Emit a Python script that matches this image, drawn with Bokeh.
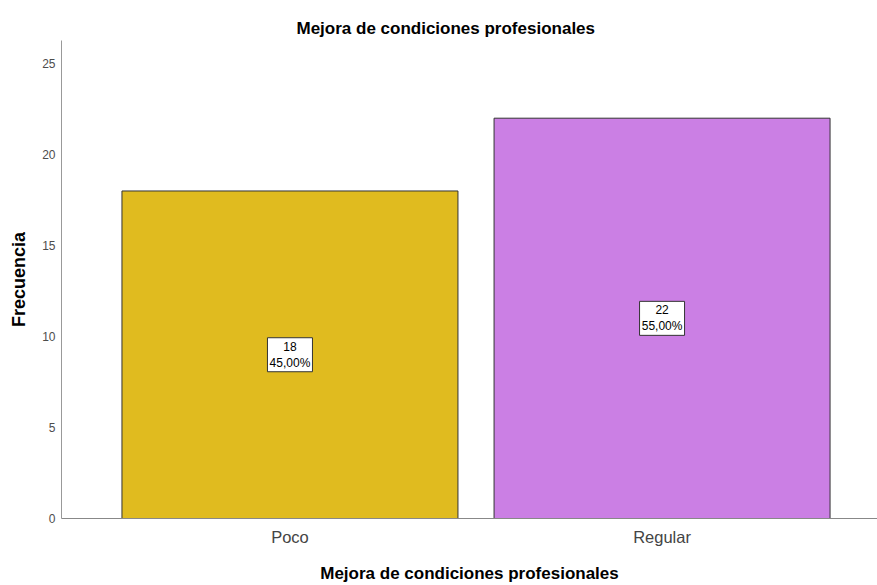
from bokeh.plotting import figure
from bokeh.models import ColumnDataSource, FixedTicker, Range1d
from bokeh.core.properties import value
from bokeh.embed import file_html
from bokeh.resources import INLINE

categories = ["Poco", "Regular"]
counts = [18, 22]
percents = ["45,00%", "55,00%"]
colors = ["#E0BB1F", "#CB7FE4"]
y_ticks = [0, 5, 10, 15, 20, 25]

xs = list(range(len(categories)))
src = ColumnDataSource(dict(
    x=xs,
    top=counts,
    mid=[c / 2 for c in counts],
    lab=[f"{c}\n{pc}" for c, pc in zip(counts, percents)],
    color=colors,
))

p = figure(width=877, height=585, output_backend="svg", toolbar_location=None,
           x_range=Range1d(-0.614, 1.579), y_range=Range1d(0, 26.27),
           min_border_left=61, min_border_right=0, min_border_top=40, min_border_bottom=67)
p.outline_line_color = None
p.xgrid.visible = False
p.ygrid.visible = False

p.title.text = "Mejora de condiciones profesionales"
p.title.align = "left"
p.title.offset = 235
p.title.standoff = 5
p.title.text_font = "Liberation Sans"
p.title.text_font_size = "17px"
p.title.text_font_style = "bold"
p.title.text_color = "#000000"

p.vbar(x="x", top="top", bottom=0, width=0.903, fill_color="color",
       line_color="#333333", line_width=1, source=src)

p.rect(x="x", y="mid", width=45, height=34, width_units="screen", height_units="screen",
       fill_color="white", line_color="#333333", line_width=1, source=src)
p.text(x="x", y="mid", text="lab", text_align="center", text_baseline="middle",
       text_font=value("Liberation Sans"), text_font_size="12px", text_color="#000000",
       text_line_height=1.15, source=src)

# axes
p.xaxis.ticker = FixedTicker(ticks=xs)
p.xaxis.major_label_overrides = {i: c for i, c in enumerate(categories)}
p.xaxis.major_tick_line_color = None
p.xaxis.major_tick_out = 0
p.xaxis.major_tick_in = 0
p.xaxis.minor_tick_line_color = None
p.xaxis.axis_line_color = "#888888"
p.xaxis.major_label_text_font = "Liberation Sans"
p.xaxis.major_label_text_font_size = "16.5px"
p.xaxis.major_label_text_color = "#444444"
p.xaxis.major_label_standoff = 9
p.xaxis.axis_label = "Mejora de condiciones profesionales"
p.xaxis.axis_label_text_font = "Liberation Sans"
p.xaxis.axis_label_text_font_size = "17px"
p.xaxis.axis_label_text_font_style = "bold"
p.xaxis.axis_label_text_color = "#000000"
p.xaxis.axis_label_standoff = 15

p.yaxis.ticker = FixedTicker(ticks=y_ticks)
p.yaxis.major_tick_line_color = None
p.yaxis.major_tick_out = 0
p.yaxis.major_tick_in = 0
p.yaxis.minor_tick_line_color = None
p.yaxis.axis_line_color = "#999999"
p.yaxis.major_label_text_font = "Liberation Sans"
p.yaxis.major_label_text_font_size = "12px"
p.yaxis.major_label_text_color = "#4d4d4d"
p.yaxis.major_label_standoff = 6
p.yaxis.axis_label = "Frecuencia"
p.yaxis.axis_label_text_font = "Liberation Sans"
p.yaxis.axis_label_text_font_size = "18px"
p.yaxis.axis_label_text_font_style = "bold"
p.yaxis.axis_label_text_color = "#000000"
p.yaxis.axis_label_standoff = 10

open("out.html", "w").write(file_html(p, INLINE))
